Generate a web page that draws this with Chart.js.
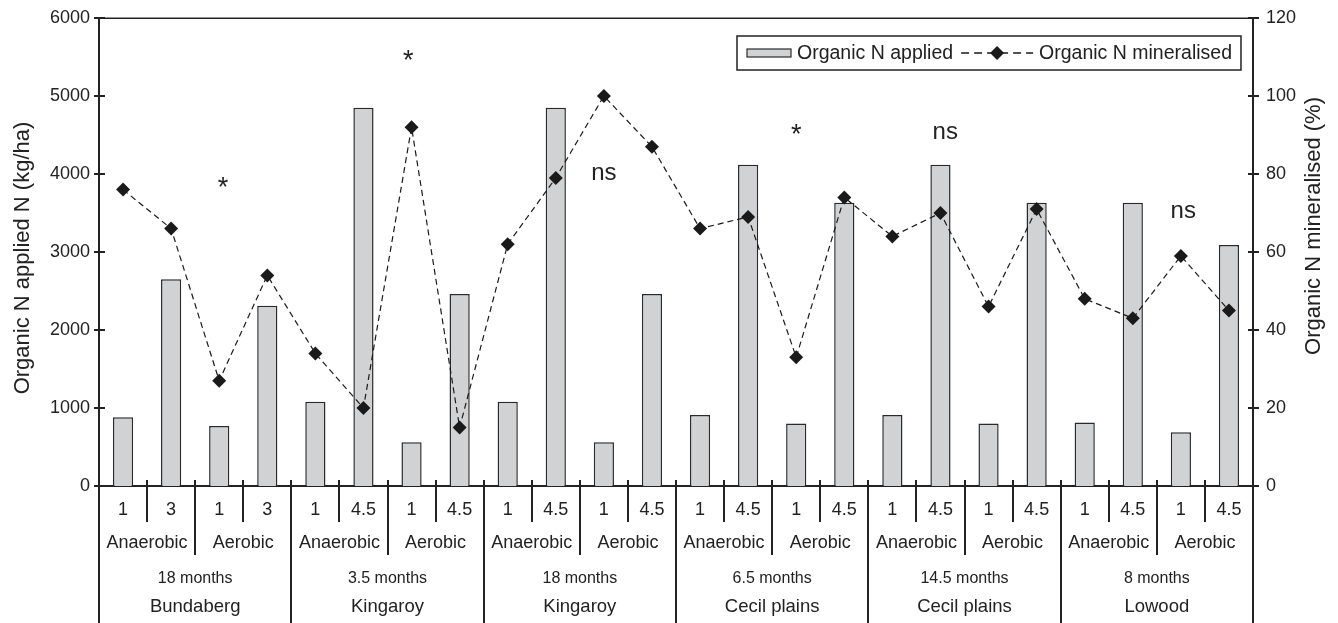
<!DOCTYPE html>
<html>
<head>
<meta charset="utf-8">
<title>Organic N applied and mineralised</title>
<script src="https://cdn.jsdelivr.net/npm/chart.js@4.4.1/dist/chart.umd.min.js"></script>
<style>
  html, body { margin: 0; padding: 0; background: #ffffff; }
  canvas { display: block; }
</style>
</head>
<body>
<canvas id="chart" width="1338" height="623"></canvas>
<script>
// Category hierarchy, outermost to innermost
const sites      = ['Bundaberg', 'Kingaroy', 'Kingaroy', 'Cecil plains', 'Cecil plains', 'Lowood'];
const periods    = ['18 months', '3.5 months', '18 months', '6.5 months', '14.5 months', '8 months'];
const treatments = ['Anaerobic', 'Aerobic'];
const rates      = ['1', '3', '1', '3',
                    '1', '4.5', '1', '4.5',
                    '1', '4.5', '1', '4.5',
                    '1', '4.5', '1', '4.5',
                    '1', '4.5', '1', '4.5',
                    '1', '4.5', '1', '4.5'];

// Organic N applied (kg/ha), left axis
const nApplied = [880, 2650, 770, 2310,
                  1080, 4850, 560, 2460,
                  1080, 4850, 560, 2460,
                  910, 4120, 800, 3630,
                  910, 4120, 800, 3630,
                  815, 3630, 690, 3090];

// Organic N mineralised (%), right axis
const nMineralised = [76, 66, 27, 54,
                      34, 20, 92, 15,
                      62, 79, 100, 87,
                      66, 69, 33, 74,
                      64, 70, 46, 71,
                      48, 43, 59, 45];

// Axis ranges
const appliedTicks     = { min: 0, max: 6000, step: 1000 };
const mineralisedTicks = { min: 0, max: 120, step: 20 };

// Significance notes: text, category position, baseline in kg/ha
const notes        = ['*', '*', 'ns', '*', 'ns', 'ns'];
const noteAt       = [2.08, 5.93, 10.0, 14.0, 17.1, 22.05];
const noteBaseline = [3720, 5350, 3920, 4400, 4450, 3440];

const FONT = '"Liberation Sans", Arial, Helvetica, sans-serif';
const INK = '#222222';

const categoryLabels = rates.map((r, i) => {
  const g = Math.floor(i / 4);
  const t = Math.floor(i / 2) % 2;
  return sites[g] + ' ' + periods[g] + ' ' + treatments[t] + ' ' + r;
});

// Draws the frame, cross ticks, nested category axis, notes and legend box
const decorPlugin = {
  id: 'decor',
  afterDraw(chart) {
    const { ctx, chartArea: area, scales } = chart;
    const x = scales.x, yL = scales.y, yR = scales.y1;
    const H = chart.height;
    ctx.save();
    ctx.strokeStyle = INK;
    ctx.fillStyle = INK;

    // top frame line
    ctx.lineWidth = 1.5;
    ctx.beginPath();
    ctx.moveTo(area.left, area.top + 0.25);
    ctx.lineTo(area.right, area.top + 0.25);
    ctx.stroke();

    // tick marks crossing both value axes
    ctx.lineWidth = 2;
    yL.ticks.forEach(t => {
      const py = Math.round(yL.getPixelForValue(t.value));
      ctx.beginPath(); ctx.moveTo(area.left - 5, py); ctx.lineTo(area.left + 6, py); ctx.stroke();
    });
    yR.ticks.forEach(t => {
      const py = Math.round(yR.getPixelForValue(t.value));
      ctx.beginPath(); ctx.moveTo(area.right - 5, py); ctx.lineTo(area.right + 6, py); ctx.stroke();
    });

    // separators of the nested category axis
    const base = area.bottom;
    const n = rates.length;
    for (let b = 0; b <= n; b++) {
      const px = Math.round(x.getPixelForValue(b - 0.5));
      let y2;
      if (b % 4 === 0) y2 = H;
      else if (b % 2 === 0) y2 = base + 69;
      else y2 = base + 36;
      ctx.beginPath();
      ctx.moveTo(px, (b === 0 || b === n) ? area.bottom : base - 6);
      ctx.lineTo(px, y2);
      ctx.stroke();
    }

    // category labels
    ctx.textAlign = 'center';
    ctx.textBaseline = 'middle';
    ctx.font = '18px ' + FONT;
    rates.forEach((r, i) => {
      ctx.fillText(r, x.getPixelForValue(i), base + 24);
    });
    for (let k = 0; k < n / 2; k++) {
      const cx = x.getPixelForValue(2 * k + 0.5);
      ctx.fillText(treatments[k % 2], cx, base + 57);
    }
    sites.forEach((s, g) => {
      const cx = x.getPixelForValue(4 * g + 1.5);
      ctx.font = '16px ' + FONT;
      ctx.fillText(periods[g], cx, base + 93);
      ctx.font = '18.5px ' + FONT;
      ctx.fillText(s, cx, base + 121);
    });

    // significance notes
    ctx.textBaseline = 'alphabetic';
    notes.forEach((txt, i) => {
      ctx.font = (txt === '*' ? '27px ' : '24px ') + FONT;
      ctx.fillText(txt, x.getPixelForValue(noteAt[i]), yL.getPixelForValue(noteBaseline[i]));
    });

    // legend box
    const bars = chart.data.datasets[0];
    const line = chart.data.datasets[1];
    ctx.font = '19.5px ' + FONT;
    ctx.textAlign = 'left';
    ctx.textBaseline = 'middle';
    const boxL = 737, boxT = 36, boxH = 34, cy = boxT + boxH / 2;
    let cur = boxL + 10;
    ctx.fillStyle = bars.backgroundColor;
    ctx.fillRect(cur, cy - 4, 44, 8);
    ctx.lineWidth = 1.2;
    ctx.strokeStyle = bars.borderColor;
    ctx.strokeRect(cur, cy - 4, 44, 8);
    cur += 50;
    ctx.fillStyle = INK;
    ctx.fillText(bars.label, cur, cy + 1);
    cur += ctx.measureText(bars.label).width + 8;
    const ls = cur, le = cur + 72;
    ctx.strokeStyle = line.borderColor;
    ctx.lineWidth = 1.5;
    ctx.setLineDash([8, 5]);
    ctx.beginPath(); ctx.moveTo(ls, cy); ctx.lineTo(le, cy); ctx.stroke();
    ctx.setLineDash([]);
    const mx = (ls + le) / 2, r = 7;
    ctx.fillStyle = line.pointBackgroundColor;
    ctx.beginPath();
    ctx.moveTo(mx, cy - r); ctx.lineTo(mx + r, cy); ctx.lineTo(mx, cy + r); ctx.lineTo(mx - r, cy);
    ctx.closePath(); ctx.fill();
    cur = le + 6;
    ctx.fillStyle = INK;
    ctx.fillText(line.label, cur, cy + 1);
    cur += ctx.measureText(line.label).width + 9;
    ctx.strokeStyle = INK;
    ctx.lineWidth = 1.5;
    ctx.strokeRect(boxL, boxT, cur - boxL, boxH);

    // rotated axis titles
    ctx.textAlign = 'center';
    ctx.textBaseline = 'middle';
    ctx.font = '22px ' + FONT;
    ctx.save();
    ctx.translate(23, 258);
    ctx.rotate(-Math.PI / 2);
    ctx.fillText(chart.options.scales.y.title.text, 0, 0);
    ctx.restore();
    ctx.save();
    ctx.translate(1314, 226);
    ctx.rotate(-Math.PI / 2);
    ctx.fillText(chart.options.scales.y1.title.text, 0, 0);
    ctx.restore();

    ctx.restore();
  }
};

// Fixed scale boxes so the plot area keeps its frame
function fixWidth(w) {
  return scale => {
    scale.width = w;
    scale.paddingTop = 0;
    scale.paddingBottom = 0;
  };
}

Chart.defaults.font.family = FONT;
Chart.defaults.color = INK;

new Chart(document.getElementById('chart'), {
  data: {
    labels: categoryLabels,
    datasets: [
      {
        type: 'bar',
        label: 'Organic N applied',
        data: nApplied,
        yAxisID: 'y',
        backgroundColor: '#d1d2d4',
        borderColor: '#2a2a2a',
        borderWidth: 1.5,
        barPercentage: 0.42,
        categoryPercentage: 1.0,
        order: 2
      },
      {
        type: 'line',
        label: 'Organic N mineralised',
        data: nMineralised,
        yAxisID: 'y1',
        borderColor: '#1a1a1a',
        borderWidth: 1.2,
        borderDash: [6, 4],
        tension: 0,
        fill: false,
        pointStyle: 'rectRot',
        pointRadius: 7,
        pointBackgroundColor: '#1a1a1a',
        pointBorderColor: '#1a1a1a',
        pointBorderWidth: 0,
        order: 1
      }
    ]
  },
  options: {
    responsive: false,
    animation: false,
    devicePixelRatio: 1,
    layout: { padding: { top: 18, left: 0, right: 0, bottom: 0 } },
    plugins: {
      legend: { display: false },
      tooltip: { enabled: false }
    },
    scales: {
      x: {
        type: 'category',
        offset: true,
        grid: { display: false },
        border: { display: true, color: INK, width: 2 },
        ticks: { display: false },
        afterFit(scale) { scale.height = 137; }
      },
      y: {
        position: 'left',
        min: appliedTicks.min,
        max: appliedTicks.max,
        ticks: {
          stepSize: appliedTicks.step, padding: 9, font: { size: 18 }, color: INK,
          callback: v => String(v)
        },
        grid: { display: false, drawTicks: false },
        border: { display: true, color: INK, width: 2 },
        title: { display: false, text: 'Organic N applied N (kg/ha)' },
        afterFit: fixWidth(99)
      },
      y1: {
        position: 'right',
        min: mineralisedTicks.min,
        max: mineralisedTicks.max,
        ticks: {
          stepSize: mineralisedTicks.step, padding: 13, font: { size: 18 }, color: INK,
          callback: v => String(v)
        },
        grid: { display: false, drawTicks: false },
        border: { display: true, color: INK, width: 2 },
        title: { display: false, text: 'Organic N mineralised (%)' },
        afterFit: fixWidth(85)
      }
    }
  },
  plugins: [decorPlugin]
});
</script>
</body>
</html>
